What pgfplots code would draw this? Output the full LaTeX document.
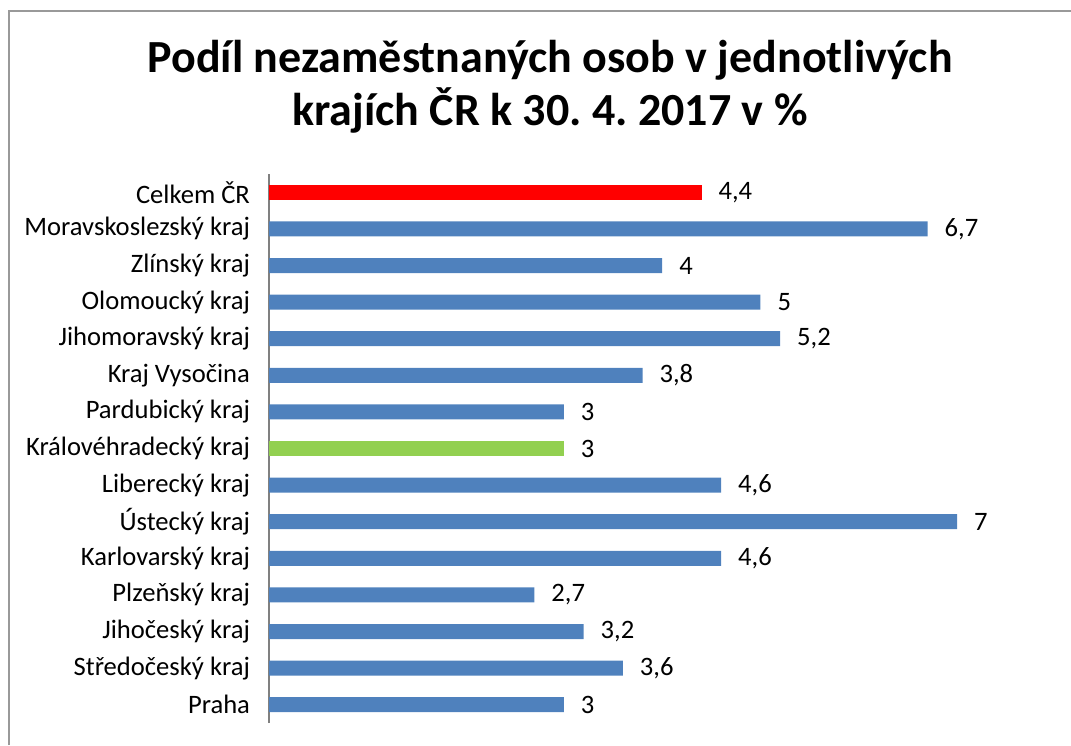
\documentclass[border=0pt]{standalone}
\usepackage{pgfplots}
\pgfplotsset{compat=1.18}
\usepackage{fontspec}
\setmainfont{Carlito}
\frenchspacing
\definecolor{barblue}{HTML}{4F81BD}
\definecolor{barred}{HTML}{FF0000}
\definecolor{bargreen}{HTML}{92D050}
\begin{document}
\begin{tikzpicture}[x=1pt,y=1pt]
\useasboundingbox (0,0) rectangle (535.5,372.5);
\draw[gray!80, line width=1.2pt] (4.5,0) -- (4.5,367) -- (535.5,367);
\node[align=center, font=\fontsize{23}{26.5}\selectfont\bfseries] at (275,329)
  {Podíl nezaměstnaných osob v jednotlivých\\krajích ČR k 30. 4. 2017 v \%};
\begin{axis}[
  at={(134.5pt,11pt)}, anchor=south west,
  scale only axis, width=393.2pt, height=274.5pt,
  xbar, bar width=7.5pt, bar shift=0pt,
  xmin=0, xmax=8, ymin=-0.5, ymax=14.5,
  axis x line=none,
  axis y line*=left,
  y axis line style={gray, line width=0.6pt, -},
  major tick length=0pt,
  ytick={0,...,14},
  yticklabels={Praha,Středočeský kraj,Jihočeský kraj,Plzeňský kraj,Karlovarský kraj,Ústecký kraj,Liberecký kraj,Královéhradecký kraj,Pardubický kraj,Kraj Vysočina,Jihomoravský kraj,Olomoucký kraj,Zlínský kraj,Moravskoslezský kraj,Celkem ČR},
  yticklabel style={font=\fontsize{13.3}{15}\selectfont, xshift=-6pt},
  nodes near coords,
  nodes near coords style={font=\fontsize{13.3}{15}\selectfont, anchor=west, xshift=5pt, /pgf/number format/use comma, /pgf/number format/assume math mode=true},
  every axis plot/.append style={draw=none},
]
\addplot[fill=barblue] coordinates {(3,0) (3.6,1) (3.2,2) (2.7,3) (4.6,4) (7,5) (4.6,6) (3,8) (3.8,9) (5.2,10) (5,11) (4,12) (6.7,13)};
\addplot[fill=barred] coordinates {(4.4,14)};
\addplot[fill=bargreen] coordinates {(3,7)};
\end{axis}
\end{tikzpicture}
\end{document}
